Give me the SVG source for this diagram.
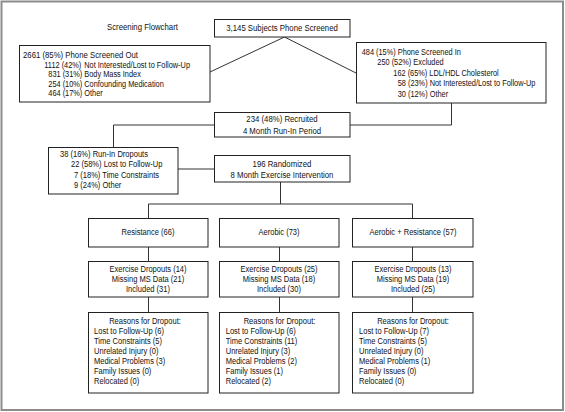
<svg xmlns="http://www.w3.org/2000/svg" width="565" height="412" viewBox="0 0 565 412">
<style>
text{font-family:"Liberation Sans",Arial,sans-serif;fill:#111;transform-box:fill-box;transform:scaleX(0.82);transform-origin:left center}
.t{font-size:9.5px}
.u{font-size:9px}
.s{font-size:9.2px}
.c{text-anchor:middle;transform-origin:center}
.box{fill:#fff;stroke:#222;stroke-width:1}
.ln{fill:none;stroke:#333;stroke-width:1}
</style>
<rect x="1.5" y="1.5" width="561.5" height="408.5" fill="#fff" stroke="#8c8c8c" stroke-width="2"/>
<text id="title" class="t" x="107" y="30">Screening Flowchart</text>
<g id="connectors">
<path class="ln" d="M284.5,37 L210,72 M284.5,37 L356,73"/>
<path class="ln" d="M451.5,103 V125 H350"/>
<path class="ln" d="M214,125 H113.5 V147"/>
<path class="ln" d="M178,169 H214"/>
<path class="ln" d="M280.5,182 V204 M148.5,218 V204 H412.5 V218"/>
<path class="ln" d="M148.5,247 V261 M279.5,247 V261 M412.5,247 V261"/>
<path class="ln" d="M148.5,297 V312 M279.5,297 V312 M412.5,297 V312"/>
</g>
<g id="screened">
<rect class="box" x="214.5" y="19.5" width="135.5" height="17.5"/>
<text class="t c" x="282" y="31.5">3,145 Subjects Phone Screened</text>
</g>
<g id="screened-out">
<rect class="box" x="19.5" y="45.5" width="190.5" height="56.5"/>
<text class="t" x="23" y="58.5">2661 (85%) Phone Screened Out</text>
<text class="u" x="44.3" y="68">1112 (42%)</text><text class="u" x="84.3" y="68">Not Interested/Lost to Follow-Up</text>
<text class="u" x="48.3" y="77.5">831 (31%)</text><text class="u" x="84.3" y="77.5">Body Mass Index</text>
<text class="u" x="48.3" y="87">254 (10%)</text><text class="u" x="84.3" y="87">Confounding Medication</text>
<text class="u" x="48.3" y="96.5">464 (17%)</text><text class="u" x="84.3" y="96.5">Other</text>
</g>
<g id="screened-in">
<rect class="box" x="356.5" y="42.5" width="189.5" height="60.5"/>
<text class="u" x="361.7" y="55">484 (15%) Phone Screened In</text>
<text class="u" x="377.3" y="65.5">250 (52%) Excluded</text>
<text class="u" x="393.3" y="76">162 (65%) LDL/HDL Cholesterol</text>
<text class="u" x="397.7" y="86.5">58 (23%) Not Interested/Lost to Follow-Up</text>
<text class="u" x="397.7" y="97">30 (12%) Other</text>
</g>
<g id="recruited">
<rect class="box" x="214.5" y="112.5" width="135.5" height="24.5"/>
<text class="t c" x="282" y="122">234 (48%) Recruited</text>
<text class="t c" x="282" y="134.5">4 Month Run-In Period</text>
</g>
<g id="runin-dropouts">
<rect class="box" x="48.5" y="147.5" width="129.5" height="46.5"/>
<text class="s" x="60" y="156.7">38 (16%) Run-In Dropouts</text>
<text class="s" x="71" y="167.5">22 (58%) Lost to Follow-Up</text>
<text class="s" x="74" y="178.3">7 (18%) Time Constraints</text>
<text class="s" x="74" y="188.5">9 (24%) Other</text>
</g>
<g id="randomized">
<rect class="box" x="214.5" y="155.5" width="135.5" height="26.5"/>
<text class="t c" x="282" y="167.5">196 Randomized</text>
<text class="t c" x="282" y="178">8 Month Exercise Intervention</text>
</g>
<g id="resistance">
<rect class="box" x="88.5" y="218.5" width="119.5" height="28.5"/>
<text class="s c" x="148" y="235">Resistance (66)</text>
</g>
<g id="aerobic">
<rect class="box" x="219.5" y="218.5" width="119.5" height="28.5"/>
<text class="s c" x="279" y="235">Aerobic (73)</text>
</g>
<g id="combined">
<rect class="box" x="352.5" y="218.5" width="120.5" height="28.5"/>
<text class="s c" x="413" y="235">Aerobic + Resistance (57)</text>
</g>
<g id="resistance-data">
<rect class="box" x="88.5" y="261.5" width="119.5" height="35.5"/>
<text class="s c" x="148" y="272.5">Exercise Dropouts (14)</text>
<text class="s c" x="148" y="282.5">Missing MS Data (21)</text>
<text class="s c" x="148" y="292.5">Included (31)</text>
</g>
<g id="aerobic-data">
<rect class="box" x="219.5" y="261.5" width="119.5" height="35.5"/>
<text class="s c" x="279" y="272.5">Exercise Dropouts (25)</text>
<text class="s c" x="279" y="282.5">Missing MS Data (18)</text>
<text class="s c" x="279" y="292.5">Included (30)</text>
</g>
<g id="combined-data">
<rect class="box" x="352.5" y="261.5" width="120.5" height="35.5"/>
<text class="s c" x="413" y="272.5">Exercise Dropouts (13)</text>
<text class="s c" x="413" y="282.5">Missing MS Data (19)</text>
<text class="s c" x="413" y="292.5">Included (25)</text>
</g>
<g id="resistance-reasons">
<rect class="box" x="88.5" y="312.5" width="119.5" height="80.5"/>
<text class="s c" x="145" y="324">Reasons for Dropout:</text>
<text class="s" x="94" y="334">Lost to Follow-Up (6)</text>
<text class="s" x="94" y="344">Time Constraints (5)</text>
<text class="s" x="94" y="354">Unrelated Injury (0)</text>
<text class="s" x="94" y="364">Medical Problems (3)</text>
<text class="s" x="94" y="374">Family Issues (0)</text>
<text class="s" x="94" y="384.5">Relocated (0)</text>
</g>
<g id="aerobic-reasons">
<rect class="box" x="219.5" y="312.5" width="119.5" height="80.5"/>
<text class="s c" x="279.5" y="324">Reasons for Dropout:</text>
<text class="s" x="225.7" y="334">Lost to Follow-Up (6)</text>
<text class="s" x="225.7" y="344">Time Constraints (11)</text>
<text class="s" x="225.7" y="354">Unrelated Injury (3)</text>
<text class="s" x="225.7" y="364">Medical Problems (2)</text>
<text class="s" x="225.7" y="374">Family Issues (1)</text>
<text class="s" x="225.7" y="384.5">Relocated (2)</text>
</g>
<g id="combined-reasons">
<rect class="box" x="352.5" y="312.5" width="120.5" height="80.5"/>
<text class="s c" x="413" y="324">Reasons for Dropout:</text>
<text class="s" x="359" y="334">Lost to Follow-Up (7)</text>
<text class="s" x="359" y="344">Time Constraints (5)</text>
<text class="s" x="359" y="354">Unrelated Injury (0)</text>
<text class="s" x="359" y="364">Medical Problems (1)</text>
<text class="s" x="359" y="374">Family Issues (0)</text>
<text class="s" x="359" y="384.5">Relocated (0)</text>
</g>
</svg>
